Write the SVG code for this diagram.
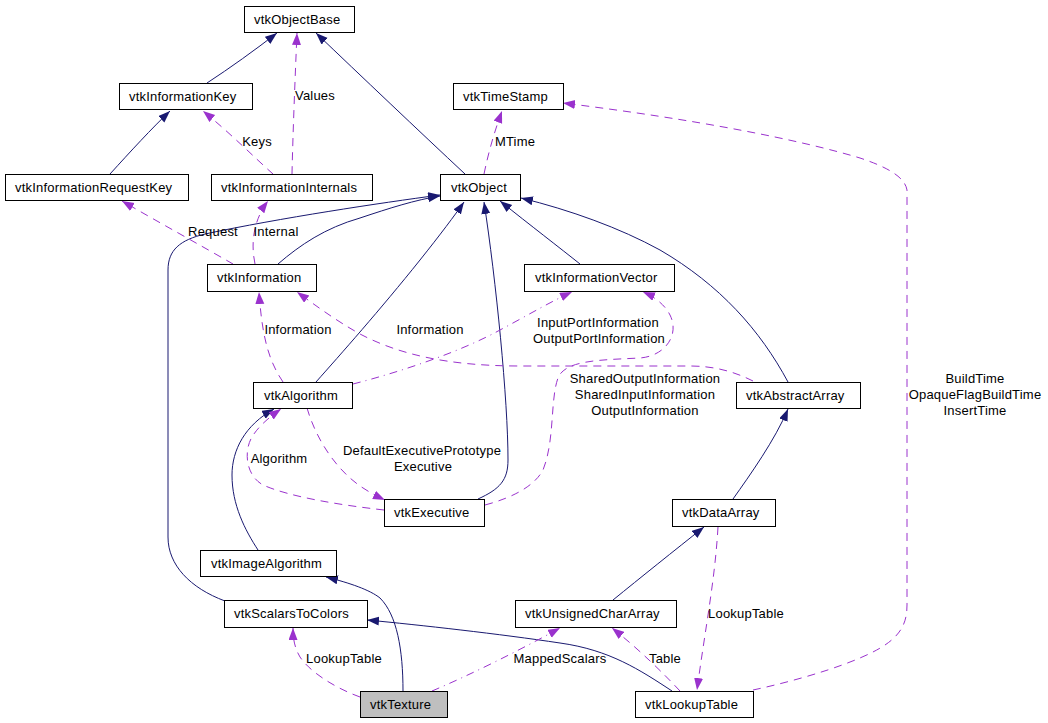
<svg xmlns="http://www.w3.org/2000/svg" width="1048" height="723" viewBox="0 0 1048 723">
<style>
.node rect{fill:#fff;stroke:#000;stroke-width:1}
.node text,.lbl{font-family:"Liberation Sans",Arial,sans-serif;font-size:13px;letter-spacing:0.2px;fill:#000}
.lbl{text-anchor:middle}
.inh{fill:none;stroke:#191970;stroke-width:1;marker-end:url(#an)}
.use{fill:none;stroke:#9a32cd;stroke-width:1;stroke-dasharray:8,6;marker-end:url(#ap)}
.dd{stroke-dasharray:8,5,1,5}
</style>
<defs>
<marker id="an" markerWidth="13" markerHeight="10" refX="12" refY="4.5" orient="auto" markerUnits="userSpaceOnUse"><path d="M0,0 L12,4.5 L0,9 z" fill="#191970"/></marker>
<marker id="ap" markerWidth="13" markerHeight="10" refX="12" refY="4.5" orient="auto" markerUnits="userSpaceOnUse"><path d="M0,0 L12,4.5 L0,9 z" fill="#9a32cd"/></marker>
</defs>
<rect width="1048" height="723" fill="#fff"/>
<g id="connectors">
<path class="inh" d="M207,83 C230,68 255,50 277,33"/>
<path class="inh" d="M110,174 C130,152 152,128 170,111"/>
<path class="inh" d="M465,174 C420,132 360,75 316,33"/>
<path class="inh" d="M278,264 C300,245 325,228 360,218 C390,208 415,200 440,196"/>
<path class="inh" d="M225,601 C190,588 168,565 168,537 L168,270 C168,250 180,240 205,234 C280,218 380,203 440,195"/>
<path class="inh" d="M316,382 C340,355 380,310 420,260 C440,235 455,215 464,202"/>
<path class="inh" d="M478,499 C500,489 508,480 508,460 C508,400 496,280 484,202"/>
<path class="inh" d="M580,264 C560,248 530,225 500,201"/>
<path class="inh" d="M788,382 C760,330 720,285 660,250 C620,228 570,210 521,198"/>
<path class="inh" d="M258,550 C245,530 232,505 232,475 C232,450 245,425 274,409"/>
<path class="inh" d="M403,691 C403,650 397,615 380,598 C370,590 350,583 326,577"/>
<path class="inh" d="M733,499 C750,475 775,440 788,409"/>
<path class="inh" d="M613,600 C640,578 675,550 704,527"/>
<path class="inh" d="M672,691 C640,670 610,650 560,643 C500,634 420,625 367,620"/>
<path class="use" d="M273,174 C255,158 230,133 203,111"/>
<path class="use" d="M292,174 C293,130 295,80 297,33"/>
<path class="use" d="M233,264 C200,245 160,223 122,201"/>
<path class="use" d="M255,264 C250,240 255,218 268,201"/>
<path class="use" d="M484,174 C489,150 495,130 502,111"/>
<path class="use" d="M283,382 C268,360 262,335 259,292"/>
<path class="use" d="M753,381 C735,372 715,366 690,366 L520,366 C450,366 400,355 360,334 C335,320 315,305 297,292"/>
<path class="use dd" d="M353,384 C400,372 460,352 500,330 C530,314 550,302 572,292"/>
<path class="use" d="M485,505 C515,497 535,485 543,470 C555,440 550,400 558,378 C565,360 600,360 640,358 C665,356 680,335 670,315 C665,305 655,297 643,292"/>
<path class="use" d="M384,510 C340,505 290,497 263,485 C245,475 244,450 252,437 C258,427 268,418 281,409"/>
<path class="use" d="M307,408 C315,435 330,460 350,478 C360,487 372,494 385,500"/>
<path class="use" d="M360,697 C335,688 310,672 300,657 C294,647 293,637 293,628"/>
<path class="use dd" d="M432,691 C470,675 520,650 560,628"/>
<path class="use" d="M680,691 C665,675 640,650 612,628"/>
<path class="use" d="M718,527 C715,580 705,630 697,690"/>
<path class="use" d="M753,690 C800,680 860,662 885,645 C903,633 907,620 907,605 L907,190 C905,178 890,168 860,158 C800,140 700,120 563,103"/>
<text class="lbl" x="315" y="100">Values</text>
<text class="lbl" x="257" y="146">Keys</text>
<text class="lbl" x="213" y="236">Request</text>
<text class="lbl" x="276" y="236">Internal</text>
<text class="lbl" x="515" y="146">MTime</text>
<text class="lbl" x="298" y="334">Information</text>
<text class="lbl" x="430" y="334">Information</text>
<text class="lbl" x="598" y="327">InputPortInformation</text>
<text class="lbl" x="599" y="343">OutputPortInformation</text>
<text class="lbl" x="645" y="383">SharedOutputInformation</text>
<text class="lbl" x="645" y="399">SharedInputInformation</text>
<text class="lbl" x="645" y="415">OutputInformation</text>
<text class="lbl" x="975" y="383">BuildTime</text>
<text class="lbl" x="975" y="399">OpaqueFlagBuildTime</text>
<text class="lbl" x="975" y="415">InsertTime</text>
<text class="lbl" x="422" y="455">DefaultExecutivePrototype</text>
<text class="lbl" x="423" y="471">Executive</text>
<text class="lbl" x="279" y="463">Algorithm</text>
<text class="lbl" x="344" y="663">LookupTable</text>
<text class="lbl" x="560" y="663">MappedScalars</text>
<text class="lbl" x="665" y="663">Table</text>
<text class="lbl" x="746" y="618">LookupTable</text>
</g>
<g id="vtkObjectBase" class="node"><rect x="244.5" y="6.5" width="110" height="26"/><text x="254" y="24">vtkObjectBase</text></g>
<g id="vtkInformationKey" class="node"><rect x="119.5" y="83.5" width="133" height="26"/><text x="129" y="101">vtkInformationKey</text></g>
<g id="vtkInformationRequestKey" class="node"><rect x="5.5" y="174.5" width="183" height="26"/><text x="15" y="192">vtkInformationRequestKey</text></g>
<g id="vtkInformationInternals" class="node"><rect x="211.5" y="174.5" width="161" height="26"/><text x="221" y="192">vtkInformationInternals</text></g>
<g id="vtkTimeStamp" class="node"><rect x="453.5" y="83.5" width="110" height="26"/><text x="463" y="101">vtkTimeStamp</text></g>
<g id="vtkObject" class="node"><rect x="440.5" y="174.5" width="80" height="26"/><text x="451" y="192">vtkObject</text></g>
<g id="vtkInformation" class="node"><rect x="207.5" y="264.5" width="109" height="27"/><text x="217" y="282">vtkInformation</text></g>
<g id="vtkInformationVector" class="node"><rect x="524.5" y="264.5" width="150" height="27"/><text x="535" y="282">vtkInformationVector</text></g>
<g id="vtkAlgorithm" class="node"><rect x="253.5" y="382.5" width="99" height="26"/><text x="264" y="400">vtkAlgorithm</text></g>
<g id="vtkAbstractArray" class="node"><rect x="736.5" y="382.5" width="124" height="26"/><text x="746" y="400">vtkAbstractArray</text></g>
<g id="vtkExecutive" class="node"><rect x="384.5" y="499.5" width="100" height="27"/><text x="394" y="517">vtkExecutive</text></g>
<g id="vtkDataArray" class="node"><rect x="672.5" y="499.5" width="103" height="27"/><text x="682" y="517">vtkDataArray</text></g>
<g id="vtkImageAlgorithm" class="node"><rect x="200.5" y="550.5" width="136" height="26"/><text x="211" y="568">vtkImageAlgorithm</text></g>
<g id="vtkScalarsToColors" class="node"><rect x="224.5" y="600.5" width="143" height="27"/><text x="234" y="618">vtkScalarsToColors</text></g>
<g id="vtkUnsignedCharArray" class="node"><rect x="515.5" y="600.5" width="161" height="27"/><text x="525" y="618">vtkUnsignedCharArray</text></g>
<g id="vtkTexture" class="node"><rect x="360.5" y="691.5" width="87" height="26" style="fill:#bfbfbf"/><text x="370" y="709">vtkTexture</text></g>
<g id="vtkLookupTable" class="node"><rect x="635.5" y="691.5" width="118" height="26"/><text x="645" y="709">vtkLookupTable</text></g>
</svg>
